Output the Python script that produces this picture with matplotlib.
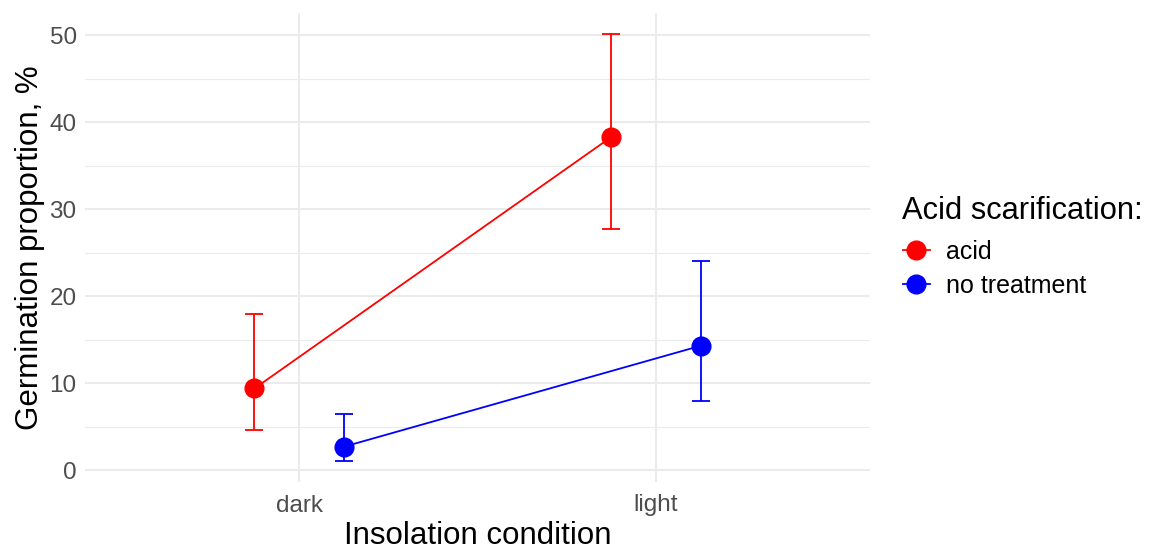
import matplotlib
matplotlib.use("Agg")
import matplotlib.pyplot as plt
import numpy as np

plt.rcParams['font.family'] = ['Liberation Sans', 'DejaVu Sans']

conditions = ["dark", "light"]
groups = ["acid", "no treatment"]
colors = ["#FF0000", "#0000FF"]
means = {"acid": [9.4, 38.3], "no treatment": [2.7, 14.3]}
lower = {"acid": [4.6, 27.7], "no treatment": [1.1, 8.0]}
upper = {"acid": [18.0, 50.1], "no treatment": [6.5, 24.1]}
dodge = {"acid": -0.125, "no treatment": 0.125}
yticks = [0, 10, 20, 30, 40, 50]

fig = plt.figure(figsize=(11.57, 5.55), dpi=100)
ax = fig.add_axes([85/1157, 1-482/555, 785/1157, 469/555])

x = np.arange(len(conditions))
for g, c in zip(groups, colors):
    xs = x + dodge[g]
    m = np.array(means[g])
    lo = m - np.array(lower[g])
    hi = np.array(upper[g]) - m
    ax.errorbar(xs, m, yerr=[lo, hi], fmt='none', ecolor=c, elinewidth=1.3,
                capsize=6.5, capthick=1.3, zorder=3)
    ax.plot(xs, m, '-o', color=c, lw=1.3, markersize=13.5, label=g, zorder=4)

ax.set_xlim(-0.6, 1.6)
ax.set_ylim(-1.35, 52.55)
ax.set_xticks(x)
ax.set_xticklabels(conditions)
ax.set_yticks(yticks)
ax.set_yticks([5, 15, 25, 35, 45], minor=True)
ax.grid(True, which='major', color='#EBEBEB', lw=1.5)
ax.grid(True, which='minor', axis='y', color='#EBEBEB', lw=0.8)
ax.set_axisbelow(True)
for s in ax.spines.values():
    s.set_visible(False)
ax.tick_params(axis='both', which='both', length=0, labelsize=17.5, labelcolor='#4D4D4D')
ax.tick_params(axis='x', pad=9)
ax.tick_params(axis='y', pad=6)
ax.set_xlabel("Insolation condition", fontsize=22.5, labelpad=3)
ax.set_ylabel("Germination proportion, %", fontsize=22.5, labelpad=3)

leg = ax.legend(title="Acid scarification:", loc='center left',
                bbox_to_anchor=(880/1157, 1-247/555), bbox_transform=fig.transFigure,
                frameon=False, fontsize=18, title_fontsize=22.2, handlelength=1.1,
                handletextpad=0.65, labelspacing=0.4)
leg._legend_box.align = "left"
leg._legend_box.sep = 10

fig.savefig("out.png", dpi=100)
